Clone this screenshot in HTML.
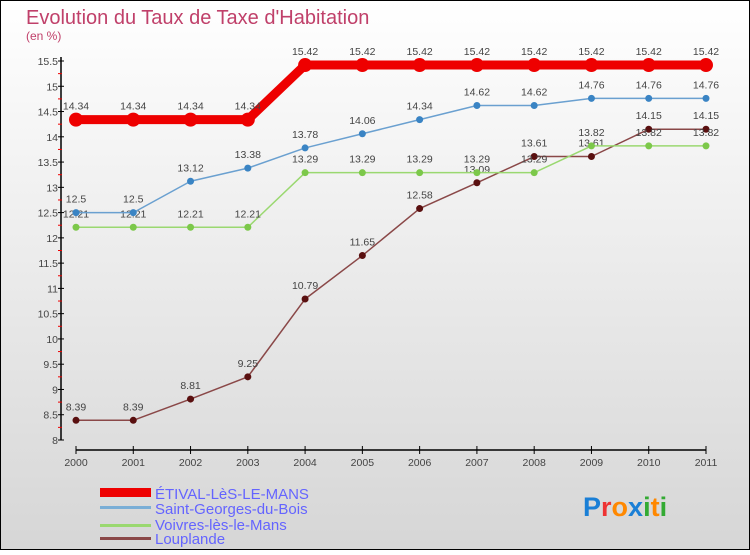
<!DOCTYPE html>
<html><head><meta charset="utf-8"><style>
body{margin:0;width:750px;height:550px;overflow:hidden;font-family:"Liberation Sans",sans-serif}
svg text{font-family:"Liberation Sans",sans-serif}
</style></head><body>
<svg id="chart" width="750" height="550" viewBox="0 0 750 550" xmlns="http://www.w3.org/2000/svg">
<defs><linearGradient id="bg" x1="0" y1="0" x2="0" y2="1"><stop offset="0" stop-color="#ffffff"/><stop offset="1" stop-color="#d6d6d6"/></linearGradient></defs>
<rect x="0.5" y="0.5" width="749" height="549" fill="url(#bg)" stroke="#000"/>
<text x="26" y="24" font-size="20" fill="#c0406a">Evolution du Taux de Taxe d'Habitation</text>
<text x="26" y="40" font-size="12" fill="#c0406a">(en %)</text>
<g id="axes"></g>
<g id="series"></g>
<g id="legend">
<rect x="100" y="488" width="51" height="9" fill="#e00"/>
<text x="155" y="499" font-size="15" fill="#6464ff">ÉTIVAL-LèS-LE-MANS</text>
<rect x="100" y="506" width="51" height="3" fill="#7aaed6"/>
<text x="155" y="514" font-size="15" fill="#6464ff">Saint-Georges-du-Bois</text>
<rect x="100" y="524" width="51" height="3" fill="#9ad870"/>
<text x="155" y="530" font-size="15" fill="#6464ff">Voivres-lès-le-Mans</text>
<rect x="100" y="537" width="51" height="3" fill="#8a4848"/>
<text x="155" y="544" font-size="15" fill="#6464ff">Louplande</text>
</g>
<text x="583" y="516" font-size="27" font-weight="bold"><tspan fill="#1a7fd6">P</tspan><tspan fill="#e33">r</tspan><tspan fill="#f80">o</tspan><tspan fill="#1a7fd6">x</tspan><tspan fill="#3a3">i</tspan><tspan fill="#f80">t</tspan><tspan fill="#3a3">i</tspan></text>
</svg>
<script>
const years=[2000,2001,2002,2003,2004,2005,2006,2007,2008,2009,2010,2011];
const etival=[14.34,14.34,14.34,14.34,15.42,15.42,15.42,15.42,15.42,15.42,15.42,15.42];
const saintGeorges=[12.5,12.5,13.12,13.38,13.78,14.06,14.34,14.62,14.62,14.76,14.76,14.76];
const voivres=[12.21,12.21,12.21,12.21,13.29,13.29,13.29,13.29,13.29,13.82,13.82,13.82];
const louplande=[8.39,8.39,8.81,9.25,10.79,11.65,12.58,13.09,13.61,13.61,14.15,14.15];
const yTicks=[8,8.5,9,9.5,10,10.5,11,11.5,12,12.5,13,13.5,14,14.5,15,15.5];
const NS="http://www.w3.org/2000/svg";
const x=i=>76+i*(630/11);
const y=v=>440-(v-8)*(379/7.5);
function mk(tag,attrs,parent){const e=document.createElementNS(NS,tag);for(const k in attrs)e.setAttribute(k,attrs[k]);parent.appendChild(e);return e;}
const ax=document.getElementById('axes');
let e=mk('line',{x1:61,y1:y(15.5)-4,x2:61,y2:440,stroke:'#000','stroke-width':1.5},ax);


e=mk('line',{x1:76,y1:450,x2:706,y2:450,stroke:'#000','stroke-width':1.5},ax);


const yMax=yTicks[yTicks.length-1];
yTicks.forEach(t=>{
  e=mk('line',{x1:58,y1:y(t),x2:64,y2:y(t),stroke:'#000'},ax);
  
  
  if(t<yMax){
    e=mk('line',{x1:58,y1:y(t+0.25),x2:62,y2:y(t+0.25),stroke:'#e00'},ax);
    
    
  }
  e=mk('text',{x:58,y:y(t)+4,'font-size':10.5,'text-anchor':'end',fill:'#444'},ax);
  e.textContent=String(t);
  
  
});
years.forEach((yr,i)=>{
  e=mk('line',{x1:x(i),y1:446,x2:x(i),y2:454,stroke:'#000'},ax);
  
  
  e=mk('text',{x:x(i),y:466,'font-size':10.5,'text-anchor':'middle',fill:'#444'},ax);
  e.textContent=String(yr);
  
  
});
const sg=document.getElementById('series');
function series(vals,color,w,r,name,ptColor){
  const g=mk('g',{},sg);
  
  
  const l=mk('polyline',{points:vals.map((v,i)=>x(i)+','+y(v)).join(' '),fill:'none',stroke:color,'stroke-width':w,'stroke-linejoin':'round'},g);
  
  
  vals.forEach((v,i)=>{
    const c=mk('circle',{cx:x(i),cy:y(v),r:r,fill:ptColor},g);
    
    
    const t=mk('text',{x:x(i),y:y(v)-10,'font-size':10.5,'text-anchor':'middle',fill:'#444'},g);
    t.textContent=String(v);
    
    
  });
}
series(louplande,'#8a4848',1.5,3.5,'louplande','#5a1010');
series(voivres,'#9ad870',1.5,3.5,'voivres','#7cc84a');
series(saintGeorges,'#6aa0d0',1.5,3.5,'saint-georges','#3a84c4');
series(etival,'#e00',9,7,'etival','#e00');
</script>
</body></html>
